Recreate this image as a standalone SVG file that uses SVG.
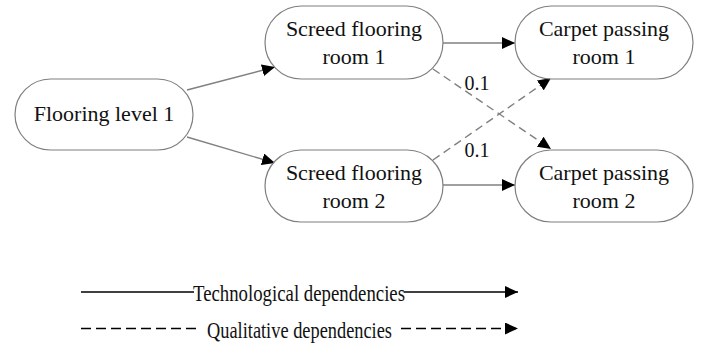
<svg xmlns="http://www.w3.org/2000/svg" width="708" height="343" viewBox="0 0 708 343">
<style>
.node rect{fill:#fff;stroke:#7f7f7f;stroke-width:1.2}
text{font-family:"Liberation Serif","Times New Roman",serif;fill:#111;text-anchor:middle}
.nt{font-size:22px}
.lbl{font-size:20px}
.leg{font-size:24px;text-anchor:start}
.e{stroke:#808080;stroke-width:1.4;fill:none}
.d{stroke-dasharray:8,5}
.l{stroke:#000;stroke-width:1.7;fill:none}
</style>
<defs>
<marker id="ah" markerUnits="userSpaceOnUse" markerWidth="14" markerHeight="12" refX="13" refY="6" orient="auto">
<path d="M0,0 L13,6 L0,12 z" fill="#000"/>
</marker>
</defs>
<rect width="708" height="343" fill="#fff"/>
<g id="connectors">
<line class="e" x1="187" y1="90" x2="275" y2="67" marker-end="url(#ah)"/>
<line class="e" x1="187" y1="137" x2="275" y2="163" marker-end="url(#ah)"/>
<line class="e" x1="443" y1="43" x2="515" y2="43" marker-end="url(#ah)"/>
<line class="e" x1="443" y1="185" x2="515" y2="185" marker-end="url(#ah)"/>
<line class="e d" x1="433" y1="69" x2="551" y2="149" marker-end="url(#ah)"/>
<line class="e d" x1="433" y1="160" x2="551" y2="78" marker-end="url(#ah)"/>
<text class="lbl" x="477" y="90">0.1</text>
<text class="lbl" x="477" y="157">0.1</text>
</g>
<g id="n_flooring" class="node">
<rect x="15" y="79" width="178" height="71" rx="35.5"/>
<text class="nt" x="104" y="121">Flooring level 1</text>
</g>
<g id="n_screed1" class="node">
<rect x="265" y="6" width="178" height="73" rx="36.5"/>
<text class="nt" x="354" y="36">Screed flooring</text>
<text class="nt" x="354" y="64">room 1</text>
</g>
<g id="n_screed2" class="node">
<rect x="265" y="150" width="178" height="72" rx="36"/>
<text class="nt" x="354" y="180">Screed flooring</text>
<text class="nt" x="354" y="208">room 2</text>
</g>
<g id="n_carpet1" class="node">
<rect x="515" y="6" width="178" height="73" rx="36.5"/>
<text class="nt" x="604" y="36">Carpet passing</text>
<text class="nt" x="604" y="64">room 1</text>
</g>
<g id="n_carpet2" class="node">
<rect x="515" y="150" width="178" height="72" rx="36"/>
<text class="nt" x="604" y="180">Carpet passing</text>
<text class="nt" x="604" y="208">room 2</text>
</g>
<g id="legend">
<line class="l" x1="81" y1="292" x2="194" y2="292"/>
<line class="l" x1="404" y1="292" x2="518" y2="292" marker-end="url(#ah)"/>
<text class="leg" x="193" y="301" textLength="212" lengthAdjust="spacingAndGlyphs">Technological dependencies</text>
<line class="l" x1="81" y1="328.5" x2="199" y2="328.5" stroke-dasharray="10,5"/>
<line class="l" x1="401" y1="328.5" x2="518" y2="328.5" stroke-dasharray="10,5" marker-end="url(#ah)"/>
<text class="leg" x="207" y="338" textLength="185" lengthAdjust="spacingAndGlyphs">Qualitative dependencies</text>
</g>
</svg>
